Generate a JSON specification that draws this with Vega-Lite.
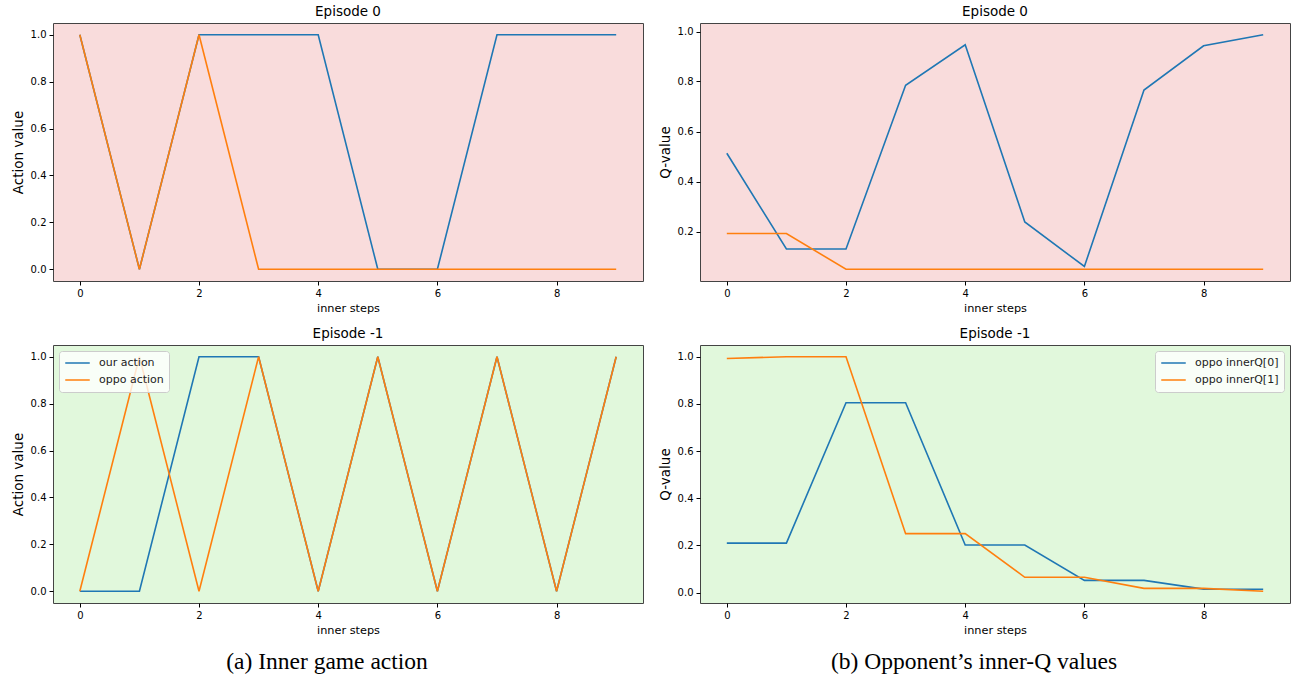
{
  "$schema": "https://vega.github.io/schema/vega-lite/v6.json",
  "padding": {"left": 10, "top": 4, "right": 0, "bottom": 0},
  "background": "white",
  "config": {
    "font": "DejaVu Sans",
    "view": {"stroke": "#444", "strokeWidth": 1},
    "axis": {"domain": false, "grid": false, "tickColor": "#000", "tickSize": 4, "labelColor": "#000", "labelFont": "DejaVu Sans", "labelFontSize": 10, "titleFont": "DejaVu Sans", "titleFontWeight": "normal", "titleColor": "#000", "labelPadding": 3},
    "axisX": {"titleFontSize": 11.3, "titlePadding": 4},
    "axisY": {"titleFontSize": 13.5, "titlePadding": 5},
    "title": {"font": "DejaVu Sans", "fontSize": 13.5, "fontWeight": "normal", "color": "#000", "offset": 5},
    "legend": {"labelFont": "DejaVu Sans", "labelFontSize": 11, "labelColor": "#222", "symbolType": "stroke", "symbolStrokeWidth": 1.6, "symbolSize": 600, "clipHeight": 14, "fillColor": "rgba(255,255,255,0.8)", "strokeColor": "#cccccc", "cornerRadius": 3, "padding": 5, "rowPadding": 3, "offset": 6, "labelOffset": 8}
  },
  "datasets": {
    "rows": [
      {"panel": "a0", "step": 0, "value": 1, "series": "our action"},
      {"panel": "a0", "step": 1, "value": 0, "series": "our action"},
      {"panel": "a0", "step": 2, "value": 1, "series": "our action"},
      {"panel": "a0", "step": 3, "value": 1, "series": "our action"},
      {"panel": "a0", "step": 4, "value": 1, "series": "our action"},
      {"panel": "a0", "step": 5, "value": 0, "series": "our action"},
      {"panel": "a0", "step": 6, "value": 0, "series": "our action"},
      {"panel": "a0", "step": 7, "value": 1, "series": "our action"},
      {"panel": "a0", "step": 8, "value": 1, "series": "our action"},
      {"panel": "a0", "step": 9, "value": 1, "series": "our action"},
      {"panel": "a0", "step": 0, "value": 1, "series": "oppo action"},
      {"panel": "a0", "step": 1, "value": 0, "series": "oppo action"},
      {"panel": "a0", "step": 2, "value": 1, "series": "oppo action"},
      {"panel": "a0", "step": 3, "value": 0, "series": "oppo action"},
      {"panel": "a0", "step": 4, "value": 0, "series": "oppo action"},
      {"panel": "a0", "step": 5, "value": 0, "series": "oppo action"},
      {"panel": "a0", "step": 6, "value": 0, "series": "oppo action"},
      {"panel": "a0", "step": 7, "value": 0, "series": "oppo action"},
      {"panel": "a0", "step": 8, "value": 0, "series": "oppo action"},
      {"panel": "a0", "step": 9, "value": 0, "series": "oppo action"},
      {"panel": "a1", "step": 0, "value": 0, "series": "our action"},
      {"panel": "a1", "step": 1, "value": 0, "series": "our action"},
      {"panel": "a1", "step": 2, "value": 1, "series": "our action"},
      {"panel": "a1", "step": 3, "value": 1, "series": "our action"},
      {"panel": "a1", "step": 4, "value": 0, "series": "our action"},
      {"panel": "a1", "step": 5, "value": 1, "series": "our action"},
      {"panel": "a1", "step": 6, "value": 0, "series": "our action"},
      {"panel": "a1", "step": 7, "value": 1, "series": "our action"},
      {"panel": "a1", "step": 8, "value": 0, "series": "our action"},
      {"panel": "a1", "step": 9, "value": 1, "series": "our action"},
      {"panel": "a1", "step": 0, "value": 0, "series": "oppo action"},
      {"panel": "a1", "step": 1, "value": 1, "series": "oppo action"},
      {"panel": "a1", "step": 2, "value": 0, "series": "oppo action"},
      {"panel": "a1", "step": 3, "value": 1, "series": "oppo action"},
      {"panel": "a1", "step": 4, "value": 0, "series": "oppo action"},
      {"panel": "a1", "step": 5, "value": 1, "series": "oppo action"},
      {"panel": "a1", "step": 6, "value": 0, "series": "oppo action"},
      {"panel": "a1", "step": 7, "value": 1, "series": "oppo action"},
      {"panel": "a1", "step": 8, "value": 0, "series": "oppo action"},
      {"panel": "a1", "step": 9, "value": 1, "series": "oppo action"},
      {"panel": "b0", "step": 0, "value": 0.513, "series": "oppo innerQ[0]"},
      {"panel": "b0", "step": 1, "value": 0.13, "series": "oppo innerQ[0]"},
      {"panel": "b0", "step": 2, "value": 0.13, "series": "oppo innerQ[0]"},
      {"panel": "b0", "step": 3, "value": 0.785, "series": "oppo innerQ[0]"},
      {"panel": "b0", "step": 4, "value": 0.947, "series": "oppo innerQ[0]"},
      {"panel": "b0", "step": 5, "value": 0.238, "series": "oppo innerQ[0]"},
      {"panel": "b0", "step": 6, "value": 0.06, "series": "oppo innerQ[0]"},
      {"panel": "b0", "step": 7, "value": 0.766, "series": "oppo innerQ[0]"},
      {"panel": "b0", "step": 8, "value": 0.943, "series": "oppo innerQ[0]"},
      {"panel": "b0", "step": 9, "value": 0.987, "series": "oppo innerQ[0]"},
      {"panel": "b0", "step": 0, "value": 0.192, "series": "oppo innerQ[1]"},
      {"panel": "b0", "step": 1, "value": 0.192, "series": "oppo innerQ[1]"},
      {"panel": "b0", "step": 2, "value": 0.049, "series": "oppo innerQ[1]"},
      {"panel": "b0", "step": 3, "value": 0.049, "series": "oppo innerQ[1]"},
      {"panel": "b0", "step": 4, "value": 0.049, "series": "oppo innerQ[1]"},
      {"panel": "b0", "step": 5, "value": 0.049, "series": "oppo innerQ[1]"},
      {"panel": "b0", "step": 6, "value": 0.049, "series": "oppo innerQ[1]"},
      {"panel": "b0", "step": 7, "value": 0.049, "series": "oppo innerQ[1]"},
      {"panel": "b0", "step": 8, "value": 0.049, "series": "oppo innerQ[1]"},
      {"panel": "b0", "step": 9, "value": 0.049, "series": "oppo innerQ[1]"},
      {"panel": "b1", "step": 0, "value": 0.21, "series": "oppo innerQ[0]"},
      {"panel": "b1", "step": 1, "value": 0.21, "series": "oppo innerQ[0]"},
      {"panel": "b1", "step": 2, "value": 0.805, "series": "oppo innerQ[0]"},
      {"panel": "b1", "step": 3, "value": 0.805, "series": "oppo innerQ[0]"},
      {"panel": "b1", "step": 4, "value": 0.202, "series": "oppo innerQ[0]"},
      {"panel": "b1", "step": 5, "value": 0.202, "series": "oppo innerQ[0]"},
      {"panel": "b1", "step": 6, "value": 0.052, "series": "oppo innerQ[0]"},
      {"panel": "b1", "step": 7, "value": 0.052, "series": "oppo innerQ[0]"},
      {"panel": "b1", "step": 8, "value": 0.015, "series": "oppo innerQ[0]"},
      {"panel": "b1", "step": 9, "value": 0.014, "series": "oppo innerQ[0]"},
      {"panel": "b1", "step": 0, "value": 0.993, "series": "oppo innerQ[1]"},
      {"panel": "b1", "step": 1, "value": 1.0, "series": "oppo innerQ[1]"},
      {"panel": "b1", "step": 2, "value": 1.0, "series": "oppo innerQ[1]"},
      {"panel": "b1", "step": 3, "value": 0.25, "series": "oppo innerQ[1]"},
      {"panel": "b1", "step": 4, "value": 0.25, "series": "oppo innerQ[1]"},
      {"panel": "b1", "step": 5, "value": 0.065, "series": "oppo innerQ[1]"},
      {"panel": "b1", "step": 6, "value": 0.065, "series": "oppo innerQ[1]"},
      {"panel": "b1", "step": 7, "value": 0.018, "series": "oppo innerQ[1]"},
      {"panel": "b1", "step": 8, "value": 0.018, "series": "oppo innerQ[1]"},
      {"panel": "b1", "step": 9, "value": 0.006, "series": "oppo innerQ[1]"}
    ]
  },
  "hconcat": [
    {
      "title": {"text": "(a) Inner game action", "orient": "bottom", "anchor": "middle", "font": "Liberation Serif", "fontSize": 23.5, "offset": 14},
      "spacing": 12,
      "resolve": {"scale": {"color": "independent"}, "legend": {"color": "independent"}},
      "vconcat": [
        {
          "title": "Episode 0",
          "width": 590, "height": 258,
          "view": {"fill": "#f9dcdc"},
          "data": {"name": "rows"},
          "transform": [{"filter": "datum.panel === 'a0'"}],
          "mark": {"type": "line", "strokeWidth": 1.6},
          "encoding": {
            "x": {"field": "step", "type": "quantitative", "title": "inner steps", "scale": {"domain": [-0.45, 9.45], "nice": false, "zero": false}, "axis": {"values": [0, 2, 4, 6, 8]}},
            "y": {"field": "value", "type": "quantitative", "title": "Action value", "scale": {"domain": [-0.05, 1.05], "nice": false, "zero": false}, "axis": {"values": [0, 0.2, 0.4, 0.6, 0.8, 1.0], "format": ".1f"}},
            "color": {"field": "series", "type": "nominal", "scale": {"domain": ["our action", "oppo action"], "range": ["#1f77b4", "#ff7f0e"]}, "legend": null}
          }
        },
        {
          "title": "Episode -1",
          "width": 590, "height": 258,
          "view": {"fill": "#e1f8dc"},
          "data": {"name": "rows"},
          "transform": [{"filter": "datum.panel === 'a1'"}],
          "mark": {"type": "line", "strokeWidth": 1.6},
          "encoding": {
            "x": {"field": "step", "type": "quantitative", "title": "inner steps", "scale": {"domain": [-0.45, 9.45], "nice": false, "zero": false}, "axis": {"values": [0, 2, 4, 6, 8]}},
            "y": {"field": "value", "type": "quantitative", "title": "Action value", "scale": {"domain": [-0.05, 1.05], "nice": false, "zero": false}, "axis": {"values": [0, 0.2, 0.4, 0.6, 0.8, 1.0], "format": ".1f"}},
            "color": {"field": "series", "type": "nominal", "scale": {"domain": ["our action", "oppo action"], "range": ["#1f77b4", "#ff7f0e"]}, "legend": {"title": null, "orient": "top-left"}}
          }
        }
      ]
    },
    {
      "title": {"text": "(b) Opponent’s inner-Q values", "orient": "bottom", "anchor": "middle", "font": "Liberation Serif", "fontSize": 23.5, "offset": 14},
      "spacing": 12,
      "resolve": {"scale": {"color": "independent"}, "legend": {"color": "independent"}},
      "vconcat": [
        {
          "title": "Episode 0",
          "width": 590, "height": 258,
          "view": {"fill": "#f9dcdc"},
          "data": {"name": "rows"},
          "transform": [{"filter": "datum.panel === 'b0'"}],
          "mark": {"type": "line", "strokeWidth": 1.6},
          "encoding": {
            "x": {"field": "step", "type": "quantitative", "title": "inner steps", "scale": {"domain": [-0.45, 9.45], "nice": false, "zero": false}, "axis": {"values": [0, 2, 4, 6, 8]}},
            "y": {"field": "value", "type": "quantitative", "title": "Q-value", "scale": {"domain": [0.002, 1.034], "nice": false, "zero": false}, "axis": {"values": [0.2, 0.4, 0.6, 0.8, 1.0], "format": ".1f"}},
            "color": {"field": "series", "type": "nominal", "scale": {"domain": ["oppo innerQ[0]", "oppo innerQ[1]"], "range": ["#1f77b4", "#ff7f0e"]}, "legend": null}
          }
        },
        {
          "title": "Episode -1",
          "width": 590, "height": 258,
          "view": {"fill": "#e1f8dc"},
          "data": {"name": "rows"},
          "transform": [{"filter": "datum.panel === 'b1'"}],
          "mark": {"type": "line", "strokeWidth": 1.6},
          "encoding": {
            "x": {"field": "step", "type": "quantitative", "title": "inner steps", "scale": {"domain": [-0.45, 9.45], "nice": false, "zero": false}, "axis": {"values": [0, 2, 4, 6, 8]}},
            "y": {"field": "value", "type": "quantitative", "title": "Q-value", "scale": {"domain": [-0.044, 1.05], "nice": false, "zero": false}, "axis": {"values": [0, 0.2, 0.4, 0.6, 0.8, 1.0], "format": ".1f"}},
            "color": {"field": "series", "type": "nominal", "scale": {"domain": ["oppo innerQ[0]", "oppo innerQ[1]"], "range": ["#1f77b4", "#ff7f0e"]}, "legend": {"title": null, "orient": "top-right"}}
          }
        }
      ]
    }
  ],
  "spacing": 13,
  "resolve": {"scale": {"color": "independent"}, "legend": {"color": "independent"}}
}
